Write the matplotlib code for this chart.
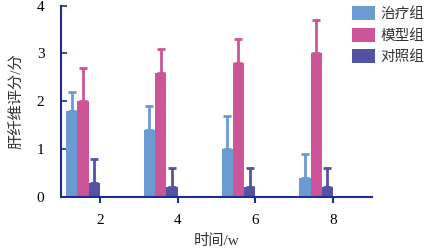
import numpy as np
import matplotlib
matplotlib.use("Agg")
import matplotlib.pyplot as plt

plt.rcParams['font.family'] = ['Liberation Serif', 'Noto Sans CJK SC']

# data
weeks = [2, 4, 6, 8]
groups = ["治疗组", "模型组", "对照组"]
treat = [1.8, 1.4, 1.0, 0.4]
treat_err = [0.4, 0.5, 0.7, 0.5]
model = [2.0, 2.6, 2.8, 3.0]
model_err = [0.7, 0.5, 0.5, 0.7]
ctrl = [0.3, 0.2, 0.2, 0.2]
ctrl_err = [0.5, 0.4, 0.4, 0.4]

colors = ["#6a9bd3", "#cc5499", "#5352a3"]
axis_color = "#1f2d8c"

fig = plt.figure(figsize=(4.33, 2.52), dpi=100)
ax = fig.add_axes([0.141, 0.218, 0.718, 0.76])

w = 0.29
x = np.array(weeks, dtype=float)
series = [(treat, treat_err), (model, model_err), (ctrl, ctrl_err)]
for i, ((vals, errs), name, c) in enumerate(zip(series, groups, colors)):
    pos = x - (2.5 - i) * w
    ax.bar(pos, vals, width=w, color=c, label=name, zorder=2)
    ax.errorbar(pos, vals, yerr=[np.zeros(len(vals)), errs], fmt="none",
                ecolor=c, elinewidth=2, capsize=3, capthick=2, zorder=1)

ax.set_xlim(1, 9)
ax.set_ylim(0, 4)
ax.set_xticks(weeks)
ax.set_yticks([0, 1, 2, 3, 4])
ax.spines['top'].set_visible(False)
ax.spines['right'].set_visible(False)
for s in ['left', 'bottom']:
    ax.spines[s].set_color(axis_color)
    ax.spines[s].set_linewidth(1.5)
ax.tick_params(axis='y', direction='in', color=axis_color, width=1.2, length=4,
               labelsize=11, pad=12)
ax.tick_params(axis='x', direction='out', color=axis_color, width=1.5, length=4,
               labelsize=11, pad=8)

ax.set_xlabel("时间/w", fontsize=11, color="#333333", labelpad=5)
ax.set_ylabel("肝纤维评分/分", fontsize=11, color="#333333", labelpad=10)

leg = fig.legend(loc="upper left", bbox_to_anchor=(0.812, 0.975), frameon=False,
                 fontsize=10.5, handlelength=1.6, handleheight=1.1,
                 handletextpad=0.4, labelspacing=0.45, borderaxespad=0,
                 borderpad=0)
for t in leg.get_texts():
    t.set_color("#333333")

plt.savefig("out.png", dpi=100)
plt.close()
